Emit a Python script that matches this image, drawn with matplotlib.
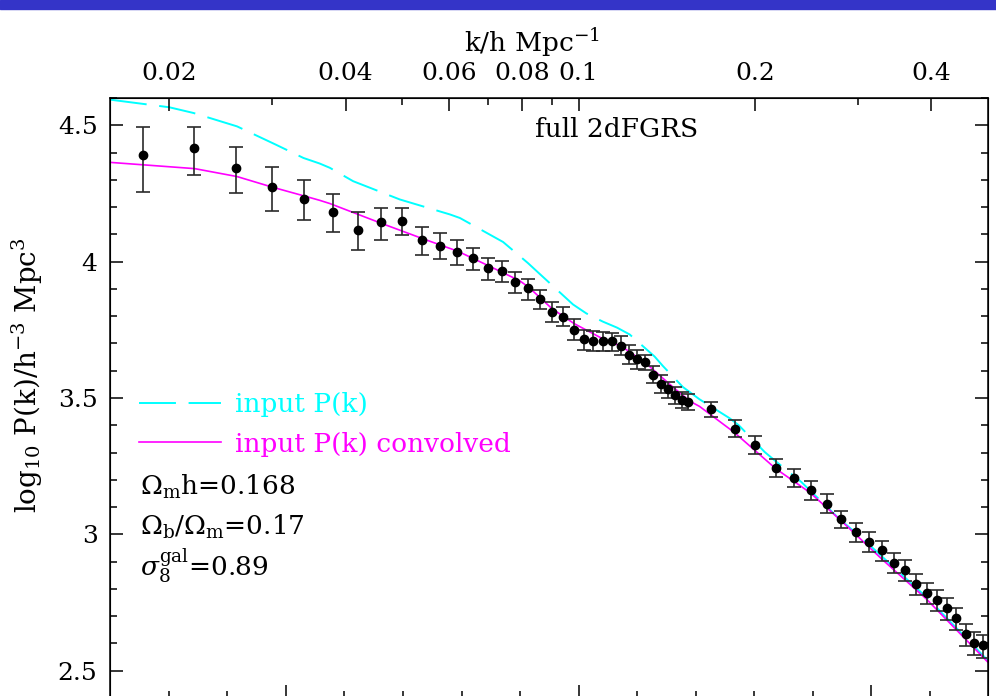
import numpy as np
import matplotlib
matplotlib.use('Agg')
import matplotlib.pyplot as plt
from matplotlib.ticker import FixedLocator, MultipleLocator, NullFormatter
from matplotlib.patches import Rectangle

# measured band powers (2dFGRS)
k_data = [0.018, 0.022, 0.026, 0.030, 0.034, 0.038, 0.042, 0.046, 0.050, 0.054,
          0.058, 0.062, 0.066, 0.070, 0.074, 0.078, 0.082, 0.086, 0.090, 0.094,
          0.098, 0.102, 0.106, 0.110, 0.114, 0.118, 0.122, 0.126, 0.130, 0.134,
          0.138, 0.142, 0.146, 0.150, 0.154, 0.168, 0.185, 0.200, 0.217, 0.233,
          0.249, 0.265, 0.281, 0.297, 0.313, 0.329, 0.346, 0.361, 0.377, 0.393,
          0.409, 0.425, 0.441, 0.458, 0.473, 0.490]
logP = [4.392, 4.416, 4.345, 4.273, 4.230, 4.183, 4.117, 4.144, 4.148, 4.080,
        4.059, 4.034, 4.013, 3.978, 3.964, 3.926, 3.902, 3.862, 3.817, 3.797,
        3.751, 3.716, 3.710, 3.708, 3.708, 3.692, 3.659, 3.642, 3.632, 3.586,
        3.551, 3.532, 3.511, 3.494, 3.487, 3.459, 3.388, 3.329, 3.244, 3.208,
        3.162, 3.113, 3.055, 3.007, 2.973, 2.941, 2.896, 2.869, 2.818, 2.784,
        2.760, 2.729, 2.692, 2.634, 2.603, 2.593]
err_up = [0.101, 0.078, 0.076, 0.075, 0.069, 0.064, 0.064, 0.051, 0.047, 0.046,
          0.045, 0.044, 0.038, 0.036, 0.037, 0.036, 0.036, 0.034, 0.035, 0.036,
          0.037, 0.035, 0.034, 0.033, 0.030, 0.037, 0.037, 0.035, 0.026, 0.031,
          0.032, 0.028, 0.031, 0.029, 0.029, 0.027, 0.030, 0.031, 0.032, 0.033,
          0.033, 0.034, 0.031, 0.033, 0.034, 0.035, 0.036, 0.036, 0.037, 0.037,
          0.037, 0.038, 0.038, 0.038, 0.039, 0.039]
err_lo = [0.136, 0.097, 0.093, 0.088, 0.079, 0.075, 0.076, 0.063, 0.052, 0.055,
          0.051, 0.048, 0.045, 0.046, 0.040, 0.041, 0.041, 0.037, 0.037, 0.034,
          0.039, 0.039, 0.038, 0.036, 0.034, 0.036, 0.034, 0.034, 0.029, 0.032,
          0.031, 0.031, 0.034, 0.029, 0.031, 0.028, 0.031, 0.033, 0.034, 0.035,
          0.035, 0.036, 0.033, 0.036, 0.037, 0.038, 0.039, 0.040, 0.041, 0.041,
          0.042, 0.042, 0.043, 0.044, 0.045, 0.045]

# model curves
k_input = [0.01584, 0.0200, 0.0220, 0.0261, 0.0304, 0.0339, 0.0361, 0.0376, 0.0412,
           0.0495, 0.0603, 0.0627, 0.0743, 0.0819, 0.0858, 0.0978, 0.1031,
           0.1100, 0.1163, 0.1222, 0.1348, 0.1393, 0.1507, 0.1609, 0.1810, 0.1877,
           0.2078, 0.2176, 0.2400, 0.2789, 0.3032, 0.3924, 0.5]
P_input = [4.594, 4.566, 4.545, 4.496, 4.429, 4.380, 4.360, 4.344, 4.295,
           4.228, 4.173, 4.160, 4.072, 3.995, 3.955, 3.843, 3.810,
           3.780, 3.758, 3.733, 3.652, 3.617, 3.540, 3.495, 3.426, 3.400,
           3.302, 3.266, 3.192, 3.056, 2.990, 2.770, 2.537]
k_conv = [0.01584, 0.0221, 0.0261, 0.0300, 0.0341, 0.0361, 0.0376, 0.0461, 0.0542,
          0.0622, 0.0703, 0.0793, 0.0823, 0.0900, 0.0982, 0.1104, 0.1185, 0.1305,
          0.1426, 0.1546, 0.1609, 0.1846, 0.2170, 0.2484, 0.2810, 0.3032, 0.3295,
          0.3924, 0.5]
P_conv = [4.364, 4.341, 4.312, 4.273, 4.240, 4.225, 4.213, 4.140, 4.084,
          4.038, 3.984, 3.930, 3.905, 3.828, 3.773, 3.715, 3.689, 3.626,
          3.553, 3.489, 3.469, 3.373, 3.241, 3.153, 3.049, 2.982, 2.909,
          2.763, 2.531]

top_ticks = [0.02, 0.04, 0.06, 0.08, 0.1, 0.2, 0.4]
top_labels = ['0.02', '0.04', '0.06', '0.08', '0.1', '0.2', '0.4']
top_minor = [0.03, 0.05, 0.07, 0.09, 0.3]

plt.rcParams['font.family'] = 'DejaVu Serif'
plt.rcParams['mathtext.fontset'] = 'dejavuserif'

fs = 18

fig = plt.figure(figsize=(9.96, 6.96), dpi=100)
fig.patches.append(Rectangle((0, 1 - 9 / 696), 1, 9 / 696, transform=fig.transFigure,
                             color='#3434c8', zorder=0))
ax = fig.add_axes([110 / 996, -2 / 696, 878 / 996, 600 / 696])

ax.plot(k_input, P_input, color='#00ffff', lw=1.4, ls=(0, (19, 6.5)), label='input P(k)')
ax.plot(k_conv, P_conv, color='#ff00ff', lw=1.2, label='input P(k) convolved')
ax.errorbar(k_data, logP, yerr=[err_lo, err_up], fmt='o', color='black', ms=6,
            ecolor='#2a2a2a', elinewidth=1.2, capsize=5, capthick=1.2, zorder=3)

ax.set_xscale('log')
ax.set_xlim(0.01584, 0.5)
ax.set_ylim(2.4, 4.6)

# bottom axis: log k ticks, labels fall off the picture
ax.xaxis.set_major_locator(FixedLocator(10 ** np.array([-1.5, -1.0, -0.5])))
ax.xaxis.set_minor_locator(FixedLocator(10 ** np.array([-1.7, -1.6, -1.4, -1.3, -1.2, -1.1,
                                                         -0.9, -0.8, -0.7, -0.6, -0.4])))
ax.xaxis.set_major_formatter(NullFormatter())
ax.xaxis.set_minor_formatter(NullFormatter())
ax.yaxis.set_minor_locator(MultipleLocator(0.1))
ax.set_yticks([2.5, 3, 3.5, 4, 4.5])
ax.set_yticklabels(['2.5', '3', '3.5', '4', '4.5'])
ax.tick_params(which='both', direction='in', top=False, right=True, labelbottom=False,
               labelsize=fs, width=1.1, pad=9)
ax.tick_params(which='major', length=9.5)
ax.tick_params(which='minor', length=5)
for s in ax.spines.values():
    s.set_linewidth(1.1)

ax2 = ax.twiny()
ax2.set_xscale('log')
ax2.set_xlim(ax.get_xlim())
ax2.set_xticks(top_ticks)
ax2.set_xticklabels(top_labels)
ax2.xaxis.set_minor_locator(FixedLocator(top_minor))
ax2.xaxis.set_minor_formatter(NullFormatter())
ax2.tick_params(which='both', direction='in', labelsize=fs, width=1.1, pad=9)
ax2.tick_params(which='major', length=9.5)
ax2.tick_params(which='minor', length=5)

ax2.set_xlabel(r'k/h Mpc$^{-1}$', fontsize=19)
ax2.xaxis.set_label_coords(0.481, 1.093)
ax2.xaxis.label.set_va('center')
ax.set_ylabel(r'log$_{10}$ P(k)/h$^{-3}$ Mpc$^{3}$', fontsize=20)
ax.yaxis.set_label_coords(-0.074, 0.538)

ax.text(0.484, 0.947, 'full 2dFGRS', transform=ax.transAxes, fontsize=19,
        ha='left', va='center')

leg = ax.legend(loc='upper left', bbox_to_anchor=(0.033, 0.51), frameon=False,
                fontsize=19, handlelength=3.1, handletextpad=0.55, labelspacing=0.55,
                borderpad=0, borderaxespad=0, labelcolor='linecolor')

ax.text(0.034, 0.338, r'$\Omega_{\rm m}$h=0.168', transform=ax.transAxes, fontsize=19,
        va='baseline')
ax.text(0.034, 0.272, r'$\Omega_{\rm b}/\Omega_{\rm m}$=0.17', transform=ax.transAxes,
        fontsize=19, va='baseline')
ax.text(0.034, 0.204, r'$\sigma_8^{\rm gal}$=0.89', transform=ax.transAxes, fontsize=19,
        va='baseline')

fig.savefig('out.png', dpi=100)
